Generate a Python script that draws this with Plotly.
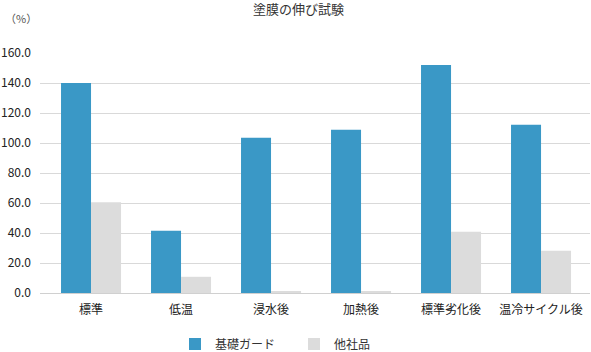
import plotly.graph_objects as go

categories = ["標準", "低温", "浸水後", "加熱後", "標準劣化後", "温冷サイクル後"]
kiso_guard = [140.0, 41.5, 103.5, 108.8, 152.0, 112.2]
other_company = [60.5, 10.8, 0.8, 0.8, 40.8, 28.2]
series_names = ["基礎ガード", "他社品"]
y_ticks = [0, 20, 40, 60, 80, 100, 120, 140, 160]

FONT = "Noto Sans CJK JP, sans-serif"

fig = go.Figure()
fig.add_trace(go.Bar(x=list(range(len(categories))), y=kiso_guard, name=series_names[0],
                     marker=dict(color="#3a98c6", line=dict(width=0))))
fig.add_trace(go.Bar(x=list(range(len(categories))), y=other_company, name=series_names[1],
                     marker=dict(color="#dcdcdc", line=dict(width=0))))

fig.update_layout(
    width=591, height=352,
    margin=dict(l=40, r=1, t=53, b=59, autoexpand=False),
    paper_bgcolor="white", plot_bgcolor="white",
    font=dict(family=FONT, size=12, color="#333333"),
    barmode="group", bargap=0.333, bargroupgap=0,
    title=dict(text="塗膜の伸び試験", x=0.505, xanchor="center", y=0.972, yanchor="middle",
               font=dict(size=13, color="#333333", family=FONT)),
    showlegend=True,
    legend=dict(orientation="h", x=(175 - 40) / 550, xanchor="left", yref="container", y=8/352,
                yanchor="middle", font=dict(size=12, color="#333333"), itemwidth=30,
                entrywidth=74, entrywidthmode="pixels", tracegroupgap=0),
    xaxis=dict(tickmode="array", tickvals=list(range(len(categories))), ticktext=categories,
               range=[-0.567, 5.544], showgrid=False, zeroline=False, showline=False,
               ticks="", ticklabelstandoff=8, tickfont=dict(size=12, color="#222222")),
    yaxis=dict(range=[0, 160], tickvals=y_ticks, tickformat=".1f", showgrid=True,
               gridcolor="#d9d9d9", gridwidth=1, zeroline=True, zerolinecolor="#d0d0d0",
               zerolinewidth=1, showline=False, ticks="", ticklabelstandoff=8,
               tickfont=dict(size=12, color="#222222")),
    annotations=[dict(text="（%）", x=-37/550, y=(352-59-18)/240, xref="paper", yref="paper",
                      showarrow=False, xanchor="left", yanchor="middle",
                      font=dict(size=11, color="#555555"))],
)

fig.write_html("out.html")
